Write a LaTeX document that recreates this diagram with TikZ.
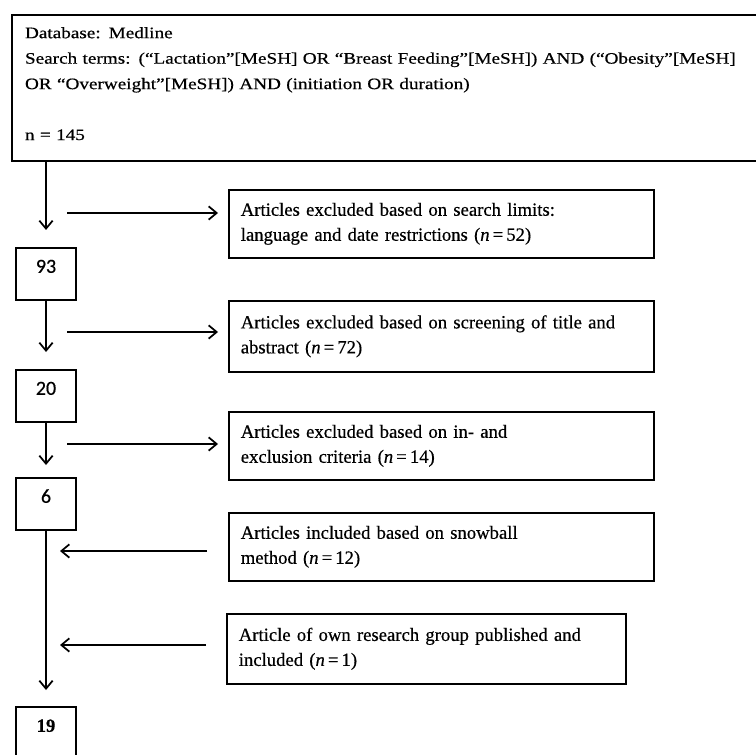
\documentclass[tikz,border=0pt]{standalone}
\usepackage{fontspec}
\setmainfont{Liberation Serif}[FakeBold=0.5]
\newfontfamily\widefont[FakeStretch=1.2, FakeBold=0.5]{Liberation Serif}
\newfontfamily\numfont[FakeBold=0.6]{Carlito}
\usetikzlibrary{arrows.meta}
\tikzset{
	topbox/.style={draw=black, line width=1.5pt, anchor=north west, align=left,
		font=\widefont\fontsize{12pt}{19.1pt}\selectfont, inner xsep=9.75pt,
		text width=550pt, minimum height=109.5pt},
	nbox/.style={draw=black, line width=1.2pt, anchor=north, minimum width=45pt,
		inner sep=0pt, text height=18.75pt, text depth=20.25pt,
		font=\numfont\fontsize{15pt}{16pt}\selectfont},
	sbox/.style={draw=black, line width=1.2pt, anchor=north west, align=left,
		font=\fontsize{14pt}{18.75pt}\selectfont, inner xsep=9pt,
		text width=300.75pt, minimum height=51pt},
	farr/.style={-{Straight Barb[length=6pt, width=10pt]}, line width=1.3pt}
}

\begin{document}
\begin{tikzpicture}[x=0.75pt, y=-0.75pt]
	\useasboundingbox (0,0) rectangle (756,755);
	% search
	\node[topbox] (search) at (11,14) {\strut Database: Medline\\
		Search terms: (“Lactation”[MeSH] OR “Breast Feeding”[MeSH]) AND (“Obesity”[MeSH]\\
		OR “Overweight”[MeSH]) AND (initiation OR duration)\\[19.1pt]
		n = 145\rule[-11.7pt]{0pt}{0pt}};
	% main column
	\node[nbox] (n93) at (46,247) {93};
	\node[nbox] (n20) at (46,369) {20};
	\node[nbox] (n6) at (46,477) {6};
	\node[nbox, font=\bfseries\fontsize{14pt}{16pt}\selectfont] (n19) at (46,706) {19};
	% side boxes
	\node[sbox] (ex1) at (228,189) {Articles excluded based on search limits:\\
		language and date restrictions (\textit{n}\,=\,52)};
	\node[sbox, minimum height=53.25pt] (ex2) at (228,300) {Articles excluded based on screening of title and\\
		abstract (\textit{n}\,=\,72)};
	\node[sbox] (ex3) at (228,411) {Articles excluded based on in- and\\
		exclusion criteria (\textit{n}\,=\,14)};
	\node[sbox] (in1) at (228,512) {Articles included based on snowball\\
		method (\textit{n}\,=\,12)};
	\node[sbox, text width=281.25pt, minimum height=52.5pt] (in2) at (226,613) {Article of own research group published and\\
		included (\textit{n}\,=\,1)};
	% flow down
	\draw[farr, shorten >=12.75pt] (search.south -| n93) -- (n93);
	\draw[farr, shorten >=12.75pt] (n93) -- (n20);
	\draw[farr, shorten >=9pt] (n20) -- (n6);
	\draw[farr, shorten >=12pt] (n6) -- (n19);
	% side arrows
	\coordinate (a1) at (67,213);
	\coordinate (a2) at (67,332);
	\coordinate (a3) at (67,444);
	\coordinate (a4) at (60,551);
	\coordinate (a5) at (60,645);
	\draw[farr, shorten >=7.5pt] (a1) -- (a1 -| ex1.west);
	\draw[farr, shorten >=7.5pt] (a2) -- (a2 -| ex2.west);
	\draw[farr, shorten >=7.5pt] (a3) -- (a3 -| ex3.west);
	\draw[farr, shorten <=15.75pt] (a4 -| in1.west) -- (a4);
	\draw[farr, shorten <=15pt] (a5 -| in2.west) -- (a5);
\end{tikzpicture}
\end{document}
